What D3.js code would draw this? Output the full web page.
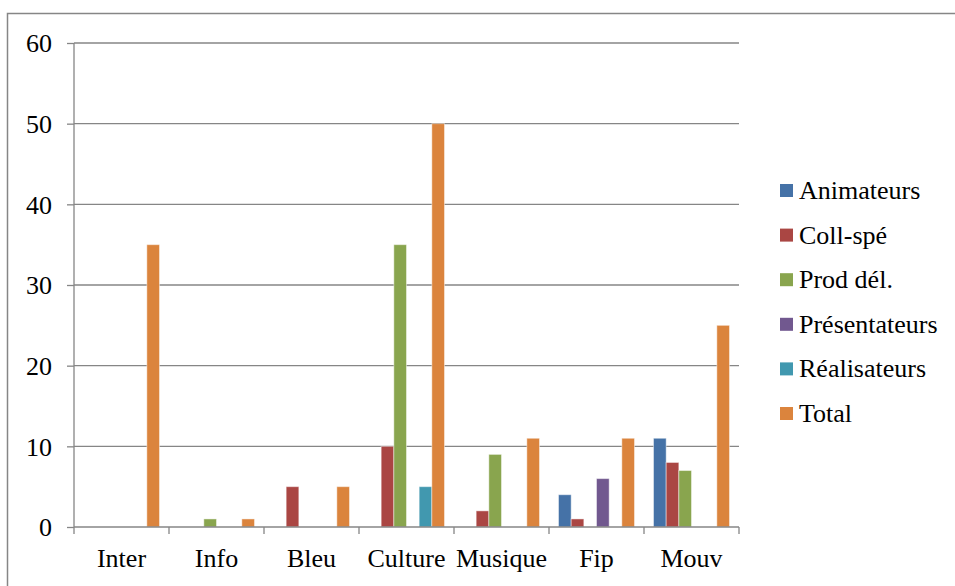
<!DOCTYPE html>
<html><head><meta charset="utf-8">
<script src="https://cdn.jsdelivr.net/npm/d3@7"></script>
<style>
html,body{margin:0;padding:0;background:#fff;}
svg text{font-family:"Times New Roman","Liberation Serif",Times,serif !important;}
</style></head>
<body><svg id="c" width="955" height="586"></svg>
<script>
const categories = ["Inter","Info","Bleu","Culture","Musique","Fip","Mouv"];
const seriesNames = ["Animateurs","Coll-spé","Prod dél.","Présentateurs","Réalisateurs","Total"];
const animateurs    = [0,0,0,0,0,4,11];
const collSpe       = [0,0,5,10,2,1,8];
const prodDel       = [0,1,0,35,9,0,7];
const presentateurs = [0,0,0,0,0,6,0];
const realisateurs  = [0,0,0,5,0,0,0];
const total         = [35,1,5,50,11,11,25];
const yTicks = [0,10,20,30,40,50,60];
const colors = ["#4572A7","#AA4643","#89A54E","#71588F","#4198AF","#DB843D"];

(function(){
const seriesValues = [animateurs, collSpe, prodDel, presentateurs, realisateurs, total];
const svg = d3.select("#c");
const grey = "#868686";

// outer frame
svg.append("path").attr("d","M7.5,586 V13.5 H955").attr("fill","none").attr("stroke",grey).attr("stroke-width",1.5);

const pL = 74, pR = 739, pT = 43, pB = 527;
const x = d3.scaleBand().domain(categories).range([pL,pR]).paddingInner(0).paddingOuter(0);
const bw = x.bandwidth()/7.5;
const xs = d3.scaleBand().domain(seriesNames).range([0.75*bw, x.bandwidth()-0.75*bw]).padding(0);
const y = d3.scaleLinear().domain([0,60]).range([pB,pT]);

// gridlines
svg.append("g").selectAll("line").data(yTicks.filter(d=>d>0)).join("line")
  .attr("x1",pL).attr("x2",pR).attr("y1",d=>y(d)).attr("y2",d=>y(d))
  .attr("stroke",grey).attr("stroke-width",1.3);

// bars
const rows = [];
seriesValues.forEach((vals,si)=>vals.forEach((v,ci)=>{ if(v>0) rows.push({s:seriesNames[si],c:categories[ci],v,si}); }));
svg.append("g").selectAll("rect").data(rows).join("rect")
  .attr("x",d=>x(d.c)+xs(d.s)).attr("width",xs.bandwidth())
  .attr("y",d=>y(d.v)).attr("height",d=>y(0)-y(d.v))
  .attr("fill",d=>colors[d.si]).attr("stroke","rgba(255,255,255,0.45)").attr("stroke-width",1);

// y axis
const ya = svg.append("g").attr("transform",`translate(${pL},0)`)
  .call(d3.axisLeft(y).tickValues(yTicks).tickSize(7).tickPadding(15).tickFormat(d3.format("d")));
ya.attr("font-family",null).attr("font-size",null);
ya.select(".domain").attr("stroke",grey).attr("stroke-width",1.3).attr("d",`M0,${pT}V${pB}`);
ya.selectAll(".tick line").attr("stroke",grey).attr("stroke-width",1.3);
ya.selectAll(".tick text").attr("fill","#000").style("font-size","26px").attr("dy","0.34em");

// x axis
const xa = svg.append("g").attr("transform",`translate(0,${pB})`)
  .call(d3.axisBottom(x).tickSize(0).tickPadding(0));
xa.attr("font-family",null).attr("font-size",null);
xa.select(".domain").attr("stroke",grey).attr("stroke-width",1.3).attr("d",`M${pL},0H${pR}`);
xa.selectAll(".tick line").remove();
xa.selectAll(".tick text").attr("fill","#000").style("font-size","26px").attr("y",40).attr("dy",0);
// category boundary ticks
xa.append("g").selectAll("line").data(d3.range(categories.length+1)).join("line")
  .attr("x1",i=>pL+i*x.bandwidth()).attr("x2",i=>pL+i*x.bandwidth())
  .attr("y1",0).attr("y2",7).attr("stroke",grey).attr("stroke-width",1.3);

// legend
const lg = svg.append("g").selectAll("g").data(seriesNames).join("g")
  .attr("transform",(d,i)=>`translate(780,${199+i*44.6})`);
lg.append("rect").attr("x",0).attr("y",-15).attr("width",13).attr("height",13).attr("fill",(d,i)=>colors[i]);
lg.append("text").attr("x",19).attr("y",0).text(d=>d).style("font-size","26px").attr("fill","#000");
})();
</script></body></html>
